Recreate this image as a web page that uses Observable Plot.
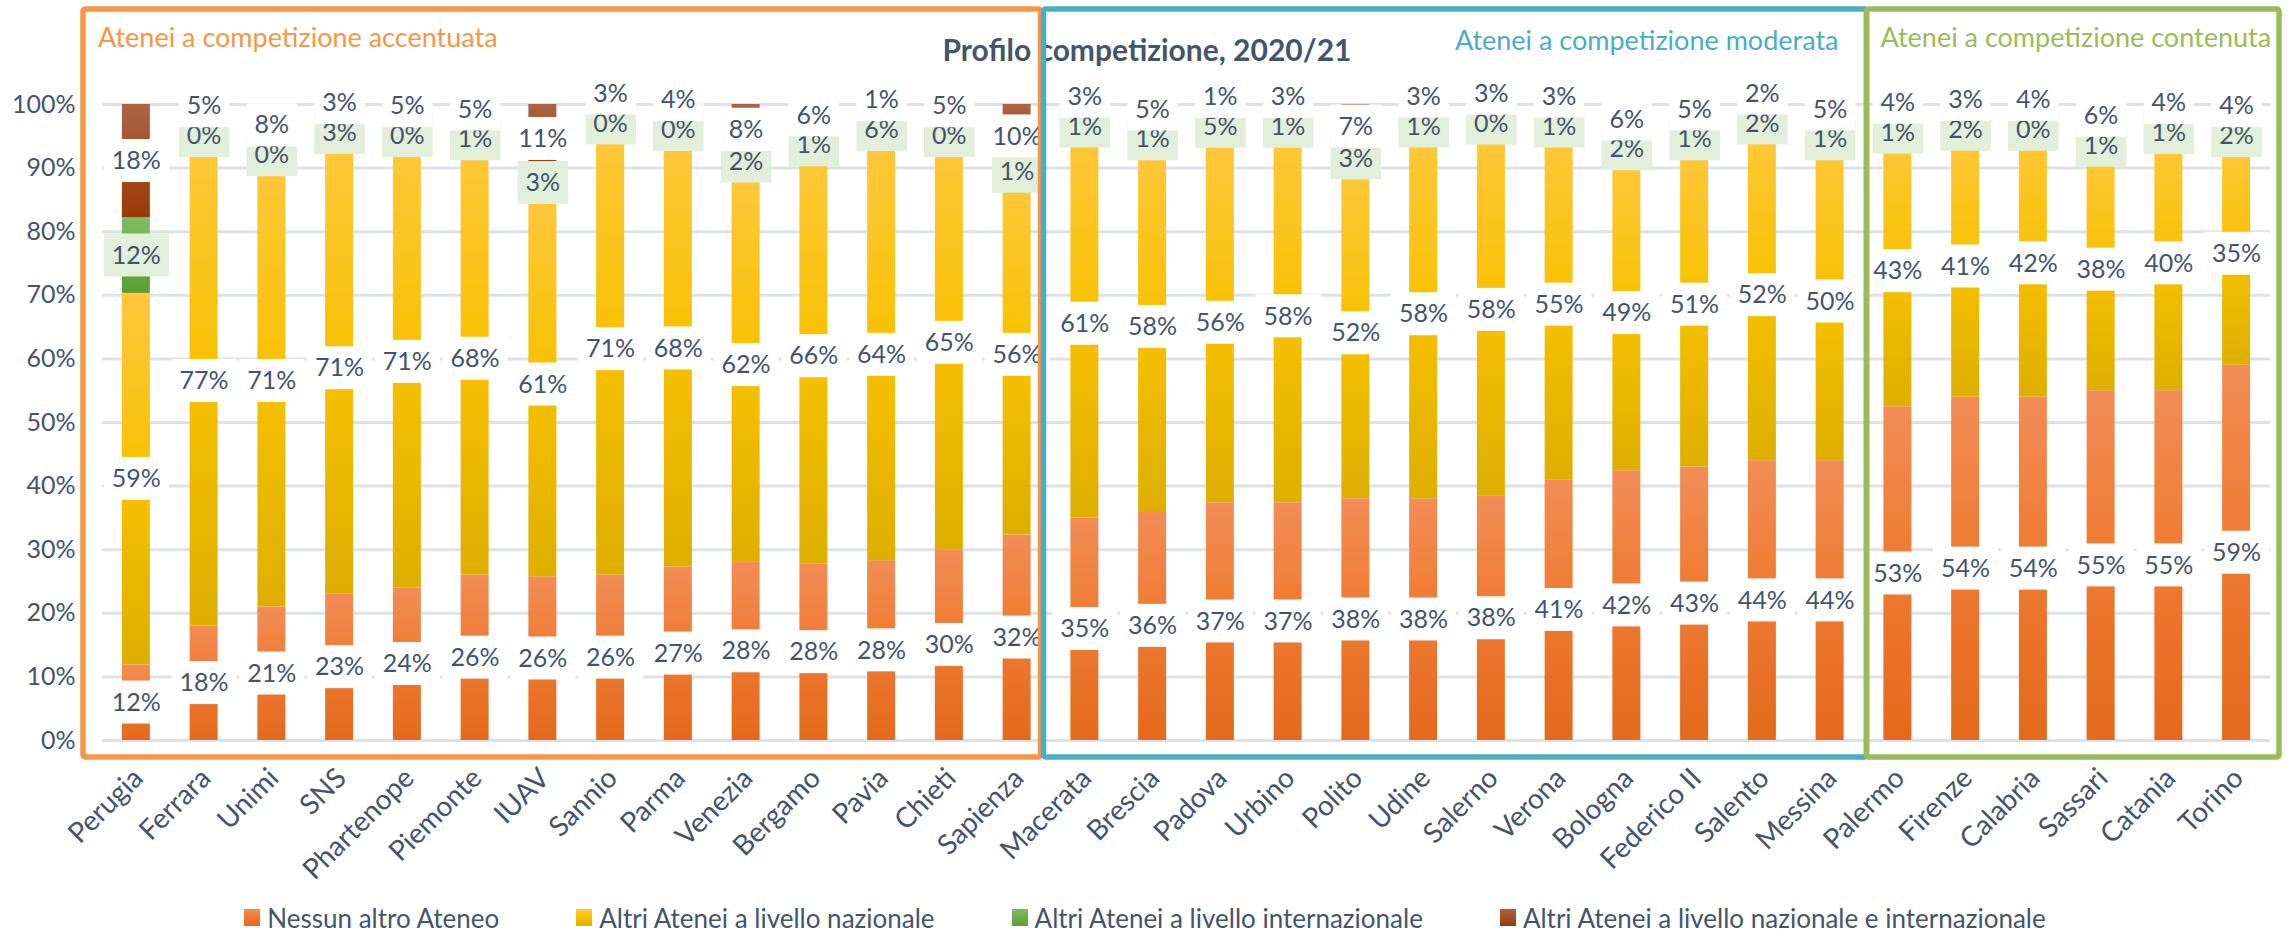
<!DOCTYPE html>
<html>
<head>
<meta charset="utf-8">
<script src="https://cdn.jsdelivr.net/npm/d3@7"></script>
<script src="https://cdn.jsdelivr.net/npm/@observablehq/plot@0.6"></script>
<style>
  html, body { margin: 0; padding: 0; background: #ffffff; }
  body { width: 2290px; height: 933px; overflow: hidden; font-family: Lato, "Open Sans", sans-serif; color: #44546A; }
  #legend { height: 53px; box-sizing: border-box; padding-top: 22px; display: flex; justify-content: center; align-items: center; gap: 77px; font-size: 26px; }
  #legend .item { display: flex; align-items: center; gap: 7px; white-space: nowrap; }
  #legend .sw { width: 16px; height: 17px; }
</style>
</head>
<body>
<div id="chart"></div>
<div id="legend"></div>
<script>
// ---------- data ----------
const categories = ["Perugia","Ferrara","Unimi","SNS","Phartenope","Piemonte","IUAV","Sannio","Parma","Venezia","Bergamo","Pavia","Chieti","Sapienza",
  "Macerata","Brescia","Padova","Urbino","Polito","Udine","Salerno","Verona","Bologna","Federico II","Salento","Messina",
  "Palermo","Firenze","Calabria","Sassari","Catania","Torino"];
const nessun         = [12,18,21,23,24,26,26,26,27,28,28,28,30,32, 35,36,37,37,38,38,38,41,42,43,44,44, 53,54,54,55,55,59];
const nazionale      = [59,77,71,71,71,68,61,71,68,62,66,64,65,56, 61,58,56,58,52,58,58,55,49,51,52,50, 43,41,42,38,40,35];
const internazionale = [12, 0, 0, 3, 0, 1, 3, 0, 0, 2, 1, 6, 0, 1,  1, 1, 5, 1, 3, 1, 0, 1, 2, 1, 2, 1,  1, 2, 0, 1, 1, 2];
const entrambi       = [18, 5, 8, 3, 5, 5,11, 3, 4, 8, 6, 1, 5,10,  3, 5, 1, 3, 7, 3, 3, 3, 6, 5, 2, 5,  4, 3, 4, 6, 4, 4];
const seriesNames = ["Nessun altro Ateneo","Altri Atenei a livello nazionale","Altri Atenei a livello internazionale","Altri Atenei a livello nazionale e internazionale"];
const groupNames  = ["Atenei a competizione accentuata","Atenei a competizione moderata","Atenei a competizione contenuta"];
const groupFirst  = ["Perugia","Macerata","Palermo"];
const groupLast   = ["Sapienza","Messina","Torino"];
const yTicks = [0,0.1,0.2,0.3,0.4,0.5,0.6,0.7,0.8,0.9,1];
const title = "Profilo competizione, 2020/21";

// ---------- styles ----------
const TEXT = "#44546A";
const FONT = "Lato, 'Open Sans', sans-serif";
const gradStops = [
  [["0%","#E4691C"],["60%","#F07D36"],["100%","#F28D56"]],
  [["0%","#DEAF00"],["50%","#F8C100"],["100%","#FFC83D"]],
  [["0%","#5C9E31"],["100%","#81BB60"]],
  [["0%","#9A3A04"],["100%","#AB6443"]]
];
const groupColors = ["#F79646","#4BACC6","#9BBB59"];
const labelBoxFill = ["#ffffff","#ffffff","#E2EFDA","#ffffff"];

// ---------- table ----------
const seriesValues = [nessun, nazionale, internazionale, entrambi];
const rows = [];
const labels = [];
const GAP = 0.047; // minimum spacing between the two top labels (share of axis)
categories.forEach((c, i) => {
  const vals = seriesValues.map(s => s[i]);
  const total = d3.sum(vals);
  let cum = 0;
  const ly = [];
  vals.forEach((v, k) => {
    const y1 = cum / total, y2 = (cum + v) / total;
    cum += v;
    rows.push({cat: c, series: k, y1, y2});
    let yl = (y1 + y2) / 2;
    if (k === 3) yl = Math.max(yl, ly[2] + GAP);
    ly.push(yl);
    labels.push({cat: c, series: k, y: yl, text: v + "%"});
  });
});

const defsMark = () => {
  const defs = d3.create("svg:defs");
  gradStops.forEach((stops, k) => {
    const lg = defs.append("linearGradient").attr("id", "grad" + k)
      .attr("x1", 0).attr("y1", 1).attr("x2", 0).attr("y2", 0);
    stops.forEach(([o, c]) => lg.append("stop").attr("offset", o).attr("stop-color", c));
  });
  return defs.node();
};

const titleMark = (index, scales, values, dims) => {
  const g = d3.create("svg:g");
  g.append("text").attr("x", dims.width / 2 + 2).attr("y", 61)
    .attr("text-anchor", "middle").attr("font-weight", "bold").attr("font-size", 30)
    .attr("font-family", FONT).attr("fill", TEXT).text(title);
  return g.node();
};

const boxesMark = (index, scales, values, dims) => {
  const x = scales.x, y = scales.y;
  const bw = typeof x.bandwidth === "function" ? x.bandwidth() : x.bandwidth;
  const step = x(categories[1]) - x(categories[0]);
  const start = c => x(c) - (step - bw) / 2;
  const end = c => start(c) + step;
  const top = 9, bottom = y(0) + 17;
  const bx = [
    {x1: start(groupFirst[0]) - 19, x2: start(groupFirst[1]) - 10},
    {x1: start(groupFirst[1]) - 7,  x2: start(groupFirst[2]) + 3},
    {x1: start(groupFirst[2]) + 3,  x2: end(groupLast[2]) + 9}
  ];
  const g = d3.create("svg:g");
  bx.forEach((b, k) => {
    g.append("rect").attr("x", b.x1).attr("y", top).attr("width", b.x2 - b.x1).attr("height", bottom - top)
      .attr("fill", "none").attr("stroke", groupColors[k]).attr("stroke-width", 5.5).attr("rx", 2);
  });
  const tt = [
    {x: bx[0].x1 + 15, y: 47, anchor: "start"},
    {x: bx[1].x2 - 28, y: 50, anchor: "end"},
    {x: bx[2].x1 + 14, y: 47, anchor: "start"}
  ];
  tt.forEach((t, k) => {
    g.append("text").attr("x", t.x).attr("y", t.y).attr("text-anchor", t.anchor)
      .attr("font-size", 27).attr("font-family", FONT).attr("fill", groupColors[k]).text(groupNames[k]);
  });
  return g.node();
};

const marks = [
  defsMark,
  Plot.ruleY(yTicks, {stroke: "#DEE2E8", strokeWidth: 3}),
  titleMark
];
for (let k = 0; k < 4; k++) {
  marks.push(Plot.barY(rows.filter(d => d.series === k), {x: "cat", y1: "y1", y2: "y2", fill: `url(#grad${k})`}));
}
for (let k = 0; k < 4; k++) {
  marks.push(Plot.text(labels.filter(d => d.series === k), {x: "cat", y: "y", text: "text", fill: TEXT, fontSize: 25, lineAnchor: "middle"}));
}
// category labels (rotated), placed under the frame through the x scale
marks.push(Plot.text(categories, {x: d => d, frameAnchor: "bottom", text: d => d, rotate: -45, textAnchor: "end", lineAnchor: "middle", fontSize: 28, fill: TEXT, dx: 2, dy: 33}));
marks.push(boxesMark);

const chart = Plot.plot({
  width: 2290,
  height: 880,
  marginTop: 104,
  marginBottom: 140,
  marginLeft: 102,
  marginRight: 20,
  style: {fontFamily: FONT, fontSize: "25px", color: TEXT, background: "#ffffff", overflow: "visible"},
  x: {domain: categories, paddingInner: 0.587, paddingOuter: 0.2935, round: false, axis: null},
  y: {domain: [0, 1], ticks: yTicks, tickFormat: d3.format(".0%"), label: null, tickSize: 0, tickPadding: 27},
  marks
});
document.getElementById("chart").appendChild(chart);

// label boxes behind each data label (first four text marks = data labels)
const textGroups = Array.from(chart.querySelectorAll('g[aria-label="text"]')).slice(0, 4);
textGroups.forEach((g, k) => {
  g.querySelectorAll("text").forEach(t => {
    const b = t.getBBox();
    const ay = parseFloat(t.getAttribute("y") || 0);
    const r = document.createElementNS("http://www.w3.org/2000/svg", "rect");
    r.setAttribute("x", b.x - 8);
    r.setAttribute("width", b.width + 16);
    r.setAttribute("y", ay - 22.5);
    r.setAttribute("height", 43);
    r.setAttribute("fill", labelBoxFill[k]);
    if (t.getAttribute("transform")) r.setAttribute("transform", t.getAttribute("transform"));
    g.insertBefore(r, t);
  });
});

// legend
const legend = document.getElementById("legend");
seriesNames.forEach((name, k) => {
  const it = document.createElement("div");
  it.className = "item";
  const sw = document.createElement("div");
  sw.className = "sw";
  sw.style.background = `linear-gradient(to top, ${gradStops[k].map(([o, c]) => c + " " + o).join(", ")})`;
  const tx = document.createElement("span");
  tx.textContent = name;
  it.appendChild(sw); it.appendChild(tx);
  legend.appendChild(it);
});
</script>
</body>
</html>
